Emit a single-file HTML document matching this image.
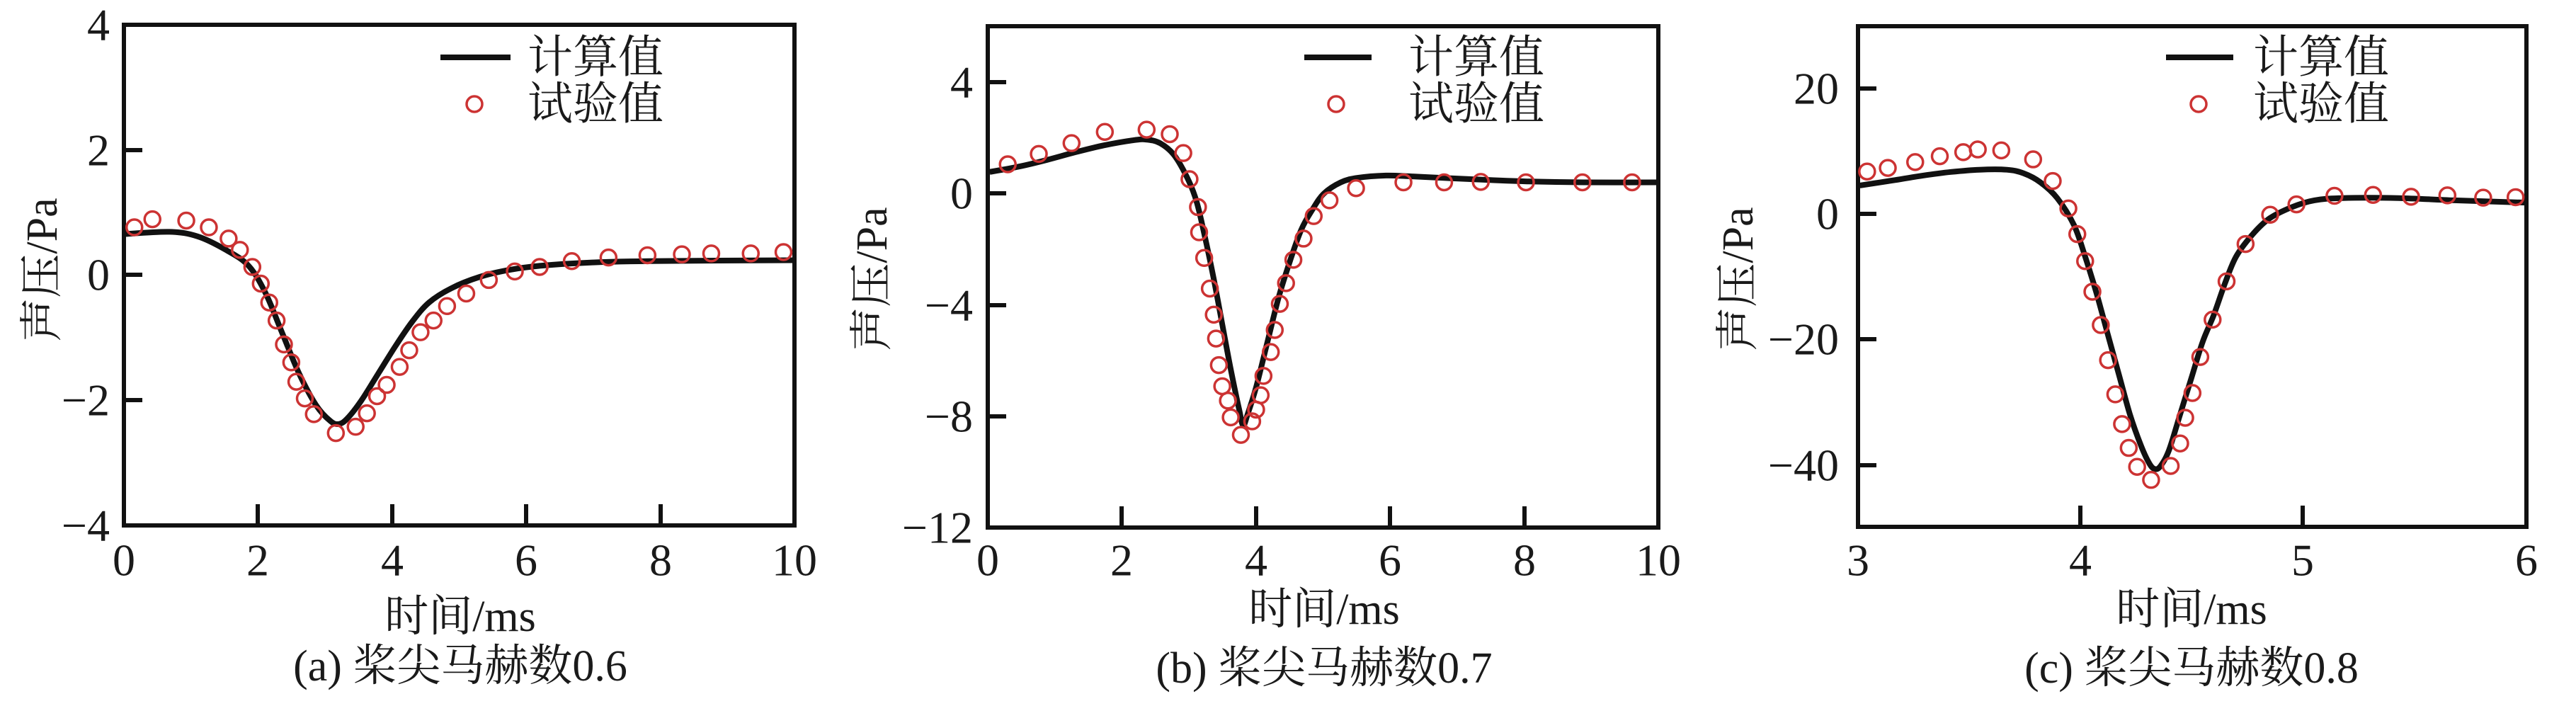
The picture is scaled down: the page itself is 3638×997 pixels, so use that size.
<!DOCTYPE html>
<html><head><meta charset="utf-8"><style>
html,body{margin:0;padding:0;background:#fff;}
svg{display:block;}
text{font-family:"Liberation Serif","Noto Serif CJK SC",serif;fill:#1a1a1a;}
.t{font-size:64px;}
.ti{font-size:62px;}
.lg{font-size:64px;}
</style></head><body>
<svg id="s" width="3638" height="997" viewBox="0 0 3638 997" xmlns="http://www.w3.org/2000/svg">
<g id="g"></g>
<g class="t">
<text x="155" y="35" text-anchor="end" dominant-baseline="central">4</text>
<text x="155" y="212" text-anchor="end" dominant-baseline="central">2</text>
<text x="155" y="388" text-anchor="end" dominant-baseline="central">0</text>
<text x="155" y="565" text-anchor="end" dominant-baseline="central">−2</text>
<text x="155" y="742" text-anchor="end" dominant-baseline="central">−4</text>
<text x="175" y="791" text-anchor="middle" dominant-baseline="central">0</text>
<text x="364" y="791" text-anchor="middle" dominant-baseline="central">2</text>
<text x="554" y="791" text-anchor="middle" dominant-baseline="central">4</text>
<text x="743" y="791" text-anchor="middle" dominant-baseline="central">6</text>
<text x="933" y="791" text-anchor="middle" dominant-baseline="central">8</text>
<text x="1122" y="791" text-anchor="middle" dominant-baseline="central">10</text>
</g>
<text class="ti" x="650" y="871" text-anchor="middle" dominant-baseline="central">时间/ms</text>
<text class="ti" x="650" y="941" text-anchor="middle" dominant-baseline="central">(a) 桨尖马赫数0.6</text>
<text class="ti" transform="translate(60,381) rotate(-90)" text-anchor="middle" dominant-baseline="central">声压/Pa</text>
<text class="lg" x="745" y="81" dominant-baseline="central">计算值</text>
<text class="lg" x="745" y="147" dominant-baseline="central">试验值</text>
<g class="t">
<text x="1374" y="116" text-anchor="end" dominant-baseline="central">4</text>
<text x="1374" y="273" text-anchor="end" dominant-baseline="central">0</text>
<text x="1374" y="431" text-anchor="end" dominant-baseline="central">−4</text>
<text x="1374" y="588" text-anchor="end" dominant-baseline="central">−8</text>
<text x="1374" y="745" text-anchor="end" dominant-baseline="central">−12</text>
<text x="1395" y="791" text-anchor="middle" dominant-baseline="central">0</text>
<text x="1584" y="791" text-anchor="middle" dominant-baseline="central">2</text>
<text x="1774" y="791" text-anchor="middle" dominant-baseline="central">4</text>
<text x="1963" y="791" text-anchor="middle" dominant-baseline="central">6</text>
<text x="2153" y="791" text-anchor="middle" dominant-baseline="central">8</text>
<text x="2342" y="791" text-anchor="middle" dominant-baseline="central">10</text>
</g>
<text class="ti" x="1870" y="861" text-anchor="middle" dominant-baseline="central">时间/ms</text>
<text class="ti" x="1870" y="944" text-anchor="middle" dominant-baseline="central">(b) 桨尖马赫数0.7</text>
<text class="ti" transform="translate(1232,394) rotate(-90)" text-anchor="middle" dominant-baseline="central">声压/Pa</text>
<text class="lg" x="1989" y="81" dominant-baseline="central">计算值</text>
<text class="lg" x="1989" y="147" dominant-baseline="central">试验值</text>
<g class="t">
<text x="2597" y="125" text-anchor="end" dominant-baseline="central">20</text>
<text x="2597" y="302" text-anchor="end" dominant-baseline="central">0</text>
<text x="2597" y="479" text-anchor="end" dominant-baseline="central">−20</text>
<text x="2597" y="657" text-anchor="end" dominant-baseline="central">−40</text>
<text x="2624" y="791" text-anchor="middle" dominant-baseline="central">3</text>
<text x="2938" y="791" text-anchor="middle" dominant-baseline="central">4</text>
<text x="3252" y="791" text-anchor="middle" dominant-baseline="central">5</text>
<text x="3568" y="791" text-anchor="middle" dominant-baseline="central">6</text>
</g>
<text class="ti" x="3095" y="861" text-anchor="middle" dominant-baseline="central">时间/ms</text>
<text class="ti" x="3095" y="944" text-anchor="middle" dominant-baseline="central">(c) 桨尖马赫数0.8</text>
<text class="ti" transform="translate(2455,394) rotate(-90)" text-anchor="middle" dominant-baseline="central">声压/Pa</text>
<text class="lg" x="3182" y="81" dominant-baseline="central">计算值</text>
<text class="lg" x="3182" y="147" dominant-baseline="central">试验值</text>
</svg>
<script>
(function(){
var NS="http://www.w3.org/2000/svg",g=document.getElementById("g");
function el(n,a){var e=document.createElementNS(NS,n);for(var k in a)e.setAttribute(k,a[k]);g.appendChild(e);return e;}
var SY=1.573;
function path(pts,ox,sx){
 var P=pts.map(function(p){return [ox+p[0]/sx,p[1]/SY];});
 var d="M"+P[0][0].toFixed(1)+","+P[0][1].toFixed(1);
 for(var i=0;i<P.length-1;i++){
  var p0=P[i-1]||P[i],p1=P[i],p2=P[i+1],p3=P[i+2]||p2;
  var c1=[p1[0]+(p2[0]-p0[0])/6,p1[1]+(p2[1]-p0[1])/6],c2=[p2[0]-(p3[0]-p1[0])/6,p2[1]-(p3[1]-p1[1])/6];
  d+=" C"+c1[0].toFixed(1)+","+c1[1].toFixed(1)+" "+c2[0].toFixed(1)+","+c2[1].toFixed(1)+" "+p2[0].toFixed(1)+","+p2[1].toFixed(1);
 }
 el("path",{d:d,fill:"none",stroke:"#111","stroke-width":8,"stroke-linejoin":"round"});
}
function pts(a,ox,sx){a.forEach(function(p){el("circle",{cx:ox+p[0]/sx,cy:p[1]/SY,r:11,fill:"none",stroke:"#cc3333","stroke-width":3.5});});}
function frame(l,t,r,b,yt,xt){
 el("rect",{x:l,y:t,width:r-l,height:b-t,fill:"none",stroke:"#111","stroke-width":6});
 yt.forEach(function(y){el("line",{x1:l,y1:y,x2:l+26,y2:y,stroke:"#111","stroke-width":6});});
 xt.forEach(function(x){el("line",{x1:x,y1:b,x2:x,y2:b-30,stroke:"#111","stroke-width":6});});
}
function legend(x1,x2,cx){
 el("line",{x1:x1,y1:81,x2:x2,y2:81,stroke:"#111","stroke-width":8});
 el("circle",{cx:cx,cy:147,r:11,fill:"none",stroke:"#cc3333","stroke-width":3.5});
}
frame(175,35,1122,742,[212,388,565],[364,554,743,933]);
path([[220,520],[300,515],[350,525],[400,555],[440,590],[470,650],[500,740],[530,830],[560,900],[585,935],[600,942],[615,930],[640,890],[670,830],[700,770],[730,715],[760,672],[800,640],[850,615],[900,600],[960,590],[1050,583],[1150,580],[1405,578]],0,1.2544);
pts([[238,505],[270,487],[330,490],[370,505],[405,530],[425,555],[447,593],[462,630],[477,672],[490,712],[503,765],[516,805],[525,848],[540,885],[556,920],[595,962],[630,948],[650,918],[668,880],[685,855],[708,815],[725,778],[745,738],[768,712],[792,680],[826,652],[866,622],[912,603],[956,593],[1013,580],[1078,572],[1147,567],[1208,565],[1260,563],[1330,563],[1388,560]],0,1.2544);
legend(622,721,670);
frame(1395,37,2342,745,[116,273,431,588],[1584,1774,1963,2153]);
path([[248,382],[300,370],[350,355],[400,338],[450,323],[500,312],[525,310],[550,318],[575,345],[600,400],[615,450],[630,530],[645,620],[660,720],[675,820],[690,910],[697,945],[705,920],[720,860],[740,760],[760,660],[780,580],[800,510],[820,465],[840,430],[870,405],[900,395],[950,390],[1000,392],[1100,398],[1200,403],[1300,405],[1430,405]],1200,1.2544);
pts([[280,365],[335,342],[393,318],[452,293],[526,288],[567,298],[591,340],[602,398],[617,460],[619,516],[628,573],[638,641],[645,699],[649,752],[654,811],[660,858],[670,890],[675,927],[693,966],[713,936],[720,910],[728,878],[733,835],[746,782],[753,733],[762,675],[773,629],[786,577],[804,530],[822,480],[850,445],[897,418],[981,405],[1053,405],[1118,404],[1198,405],[1298,405],[1386,405]],1200,1.2544);
legend(1842,1937,1887);
frame(2624,37,3568,744,[125,302,479,657],[2938,3252]);
path([[287,412],[350,400],[400,390],[450,382],[500,377],[550,377],[580,385],[610,405],[640,440],[670,500],[690,570],[710,650],[730,740],[750,830],[770,920],[790,990],[805,1030],[815,1042],[825,1035],[840,1000],[860,920],[880,840],[900,760],[920,700],[940,630],[960,570],[990,520],[1020,485],[1060,460],[1100,445],[1150,440],[1250,440],[1350,445],[1477,450]],2400,1.2666);
pts([[300,381],[337,373],[386,360],[430,347],[472,338],[498,332],[540,334],[597,354],[632,402],[660,463],[676,520],[690,580],[703,648],[718,722],[731,800],[744,876],[756,942],[768,995],[783,1037],[808,1066],[843,1035],[860,985],[869,928],[882,873],[896,793],[918,710],[943,625],[977,542],[1021,477],[1068,454],[1136,435],[1205,433],[1273,437],[1338,434],[1402,439],[1460,438]],2400,1.2666);
legend(3059,3154,3105);
})();
</script>
</body></html>
